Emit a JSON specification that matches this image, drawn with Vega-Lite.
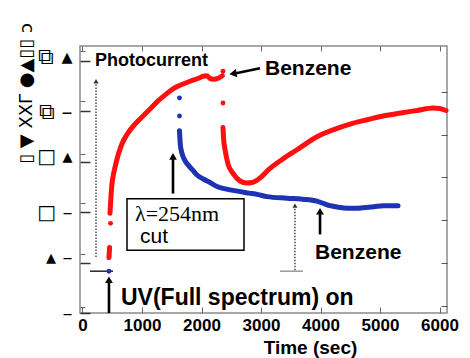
{
  "$schema": "https://vega.github.io/schema/vega-lite/v6.json",
  "width": 367,
  "height": 267,
  "autosize": "none",
  "padding": {"left": 80, "top": 46, "right": 23, "bottom": 45},
  "background": "white",
  "config": {"view": {"stroke": "#8a8a8a", "strokeWidth": 1.5}},
  "datasets": {
    "curves": [
      {"s": "red", "seg": "r0", "t": 445, "v": 1.10},
      {"s": "red", "seg": "r0", "t": 455, "v": 1.30},
      {"s": "red", "seg": "r1", "t": 462, "v": 1.98},
      {"s": "red", "seg": "r1", "t": 478, "v": 2.30},
      {"s": "red", "seg": "r1", "t": 496, "v": 2.57},
      {"s": "red", "seg": "r1", "t": 520, "v": 2.75},
      {"s": "red", "seg": "r1", "t": 546, "v": 2.89},
      {"s": "red", "seg": "r1", "t": 600, "v": 3.14},
      {"s": "red", "seg": "r1", "t": 664, "v": 3.36},
      {"s": "red", "seg": "r1", "t": 740, "v": 3.53},
      {"s": "red", "seg": "r1", "t": 832, "v": 3.68},
      {"s": "red", "seg": "r1", "t": 940, "v": 3.82},
      {"s": "red", "seg": "r1", "t": 1050, "v": 3.95},
      {"s": "red", "seg": "r1", "t": 1160, "v": 4.08},
      {"s": "red", "seg": "r1", "t": 1269, "v": 4.21},
      {"s": "red", "seg": "r1", "t": 1400, "v": 4.34},
      {"s": "red", "seg": "r1", "t": 1521, "v": 4.45},
      {"s": "red", "seg": "r1", "t": 1660, "v": 4.53},
      {"s": "red", "seg": "r1", "t": 1807, "v": 4.60},
      {"s": "red", "seg": "r1", "t": 1950, "v": 4.66},
      {"s": "red", "seg": "r1", "t": 2030, "v": 4.70},
      {"s": "red", "seg": "r1", "t": 2090, "v": 4.71},
      {"s": "red", "seg": "r1", "t": 2140, "v": 4.66},
      {"s": "red", "seg": "r1", "t": 2200, "v": 4.64},
      {"s": "red", "seg": "r1", "t": 2280, "v": 4.66},
      {"s": "red", "seg": "r1", "t": 2350, "v": 4.71},
      {"s": "red", "seg": "r2", "t": 2361, "v": 3.68},
      {"s": "red", "seg": "r2", "t": 2372, "v": 3.45},
      {"s": "red", "seg": "r2", "t": 2395, "v": 3.25},
      {"s": "red", "seg": "r2", "t": 2445, "v": 2.96},
      {"s": "red", "seg": "r2", "t": 2530, "v": 2.77},
      {"s": "red", "seg": "r2", "t": 2647, "v": 2.62},
      {"s": "red", "seg": "r2", "t": 2760, "v": 2.58},
      {"s": "red", "seg": "r2", "t": 2850, "v": 2.59},
      {"s": "red", "seg": "r2", "t": 2950, "v": 2.65},
      {"s": "red", "seg": "r2", "t": 3151, "v": 2.87},
      {"s": "red", "seg": "r2", "t": 3370, "v": 3.06},
      {"s": "red", "seg": "r2", "t": 3605, "v": 3.24},
      {"s": "red", "seg": "r2", "t": 3941, "v": 3.50},
      {"s": "red", "seg": "r2", "t": 4200, "v": 3.63},
      {"s": "red", "seg": "r2", "t": 4496, "v": 3.75},
      {"s": "red", "seg": "r2", "t": 4800, "v": 3.84},
      {"s": "red", "seg": "r2", "t": 5051, "v": 3.91},
      {"s": "red", "seg": "r2", "t": 5350, "v": 3.97},
      {"s": "red", "seg": "r2", "t": 5622, "v": 4.02},
      {"s": "red", "seg": "r2", "t": 5891, "v": 4.07},
      {"s": "red", "seg": "r2", "t": 6000, "v": 4.06},
      {"s": "red", "seg": "r2", "t": 6110, "v": 4.02},
      {"s": "blue", "seg": "b1", "t": 1630, "v": 3.62},
      {"s": "blue", "seg": "b1", "t": 1645, "v": 3.33},
      {"s": "blue", "seg": "b1", "t": 1672, "v": 3.17},
      {"s": "blue", "seg": "b1", "t": 1720, "v": 3.03},
      {"s": "blue", "seg": "b1", "t": 1780, "v": 2.93},
      {"s": "blue", "seg": "b1", "t": 1857, "v": 2.83},
      {"s": "blue", "seg": "b1", "t": 1925, "v": 2.74},
      {"s": "blue", "seg": "b1", "t": 2030, "v": 2.66},
      {"s": "blue", "seg": "b1", "t": 2143, "v": 2.59},
      {"s": "blue", "seg": "b1", "t": 2261, "v": 2.51},
      {"s": "blue", "seg": "b1", "t": 2420, "v": 2.46},
      {"s": "blue", "seg": "b1", "t": 2600, "v": 2.42},
      {"s": "blue", "seg": "b1", "t": 2800, "v": 2.38},
      {"s": "blue", "seg": "b1", "t": 2950, "v": 2.35},
      {"s": "blue", "seg": "b1", "t": 3100, "v": 2.31},
      {"s": "blue", "seg": "b1", "t": 3437, "v": 2.28},
      {"s": "blue", "seg": "b1", "t": 3700, "v": 2.26},
      {"s": "blue", "seg": "b1", "t": 3941, "v": 2.22},
      {"s": "blue", "seg": "b1", "t": 4060, "v": 2.17},
      {"s": "blue", "seg": "b1", "t": 4160, "v": 2.13},
      {"s": "blue", "seg": "b1", "t": 4300, "v": 2.10},
      {"s": "blue", "seg": "b1", "t": 4446, "v": 2.08},
      {"s": "blue", "seg": "b1", "t": 4600, "v": 2.08},
      {"s": "blue", "seg": "b1", "t": 4714, "v": 2.09},
      {"s": "blue", "seg": "b1", "t": 4900, "v": 2.11},
      {"s": "blue", "seg": "b1", "t": 5051, "v": 2.13},
      {"s": "blue", "seg": "b1", "t": 5303, "v": 2.13}
    ],
    "dots": [
      {"s": "red", "t": 472, "v": 1.78},
      {"s": "red", "t": 2361, "v": 4.80},
      {"s": "red", "t": 2361, "v": 4.17},
      {"s": "blue", "t": 445, "v": 0.83},
      {"s": "blue", "t": 1630, "v": 4.27},
      {"s": "blue", "t": 1630, "v": 3.91}
    ],
    "arrows": [
      {"kind": "solid", "t": 445, "v": 0, "t2": 445, "v2": 0.62},
      {"kind": "solid", "t": 1521, "v": 2.37, "t2": 1521, "v2": 3.06},
      {"kind": "solid", "t": 3992, "v": 1.56, "t2": 3992, "v2": 1.98},
      {"kind": "solid", "t": 2983, "v": 4.86, "t2": 2580, "v2": 4.76},
      {"kind": "dotted", "t": 227, "v": 1.11, "t2": 227, "v2": 4.56},
      {"kind": "dotted", "t": 3571, "v": 0.85, "t2": 3571, "v2": 2.10},
      {"kind": "black", "t": 126, "v": 0.83, "t2": 513, "v2": 0.83},
      {"kind": "gray", "t": 3319, "v": 0.83, "t2": 3706, "v2": 0.83}
    ],
    "heads": [
      {"kind": "solid", "dir": "up", "t": 445, "v": 0.66},
      {"kind": "solid", "dir": "up", "t": 1521, "v": 3.11},
      {"kind": "solid", "dir": "up", "t": 3992, "v": 2.02},
      {"kind": "solid", "dir": "left", "t": 2529, "v": 4.75},
      {"kind": "dotted", "dir": "up", "t": 227, "v": 4.60},
      {"kind": "dotted", "dir": "up", "t": 3571, "v": 2.13}
    ],
    "box": [{"t": 748, "t2": 2714, "v": 1.245, "v2": 2.27}],
    "labels": [
      {"id": "photo", "text": "Photocurrent", "t": 210, "v": 5.0},
      {"id": "benz1", "text": "Benzene", "t": 3067, "v": 4.85},
      {"id": "benz2", "text": "Benzene", "t": 3908, "v": 1.19},
      {"id": "uv", "text": "UV(Full spectrum) on", "t": 647, "v": 0.30},
      {"id": "lambda", "text": "λ=254nm", "t": 882, "v": 1.97},
      {"id": "cut", "text": "cut", "t": 966, "v": 1.50}
    ]
  },
  "layer": [
    {
      "encoding": {
        "x": {
          "field": "t", "type": "quantitative",
          "scale": {"domain": [-42, 6126], "nice": false, "zero": false},
          "axis": {
            "orient": "bottom", "values": [0, 1000, 2000, 3000, 4000, 5000, 6000], "format": "d",
            "domain": false, "grid": false, "tickSize": -6, "tickColor": "#666", "tickWidth": 1,
            "labelFont": "Liberation Sans", "labelFontSize": 17, "labelFontWeight": "bold", "labelColor": "black",
            "labelPadding": 10, "labelFlush": false, "labelOverlap": false,
            "title": "Time (sec)", "titleFont": "Liberation Sans", "titleFontSize": 19, "titleFontWeight": "bold",
            "titleColor": "black", "titleX": 230, "titleY": 34, "titleBaseline": "middle", "titleAlign": "center"
          }
        },
        "y": {
          "field": "v", "type": "quantitative",
          "scale": {"domain": [0, 5.3], "nice": false, "zero": false},
          "axis": {
            "orient": "left", "values": [0, 1, 2, 3, 4, 5],
            "labelExpr": "datum.value==5?'⧉ ▴':datum.value==4?'⧉ –':datum.value==3?'□ ▴':datum.value==2?'□ –':datum.value==1?'▴ –':'–'",
            "domain": false, "grid": false, "tickSize": -10, "tickColor": "#333", "tickWidth": 1.5,
            "labelFont": "DejaVu Sans", "labelColor": "black", "labelPadding": 18,
            "labelFontSize": {"condition": {"test": "datum.value >= 4", "value": 22}, "value": 20},
            "labelOffset": {"condition": {"test": "datum.value % 2 == 1", "value": -5}, "value": 0},
            "title": "▯ ▼ XXΓ ●▲▯▯ ɔ", "titleFont": "DejaVu Sans", "titleFontSize": 18, "titleFontWeight": "normal",
            "titleColor": "black", "titleX": -54, "titleY": 47, "titleBaseline": "middle", "titleAlign": "center", "titleAngle": -90
          }
        }
      },
      "layer": [
        {
          "data": {"name": "curves"},
          "mark": {"type": "line", "strokeWidth": 5, "strokeCap": "round", "strokeJoin": "round", "interpolate": "monotone"},
          "encoding": {
            "color": {"field": "s", "type": "nominal", "scale": {"domain": ["red", "blue"], "range": ["#ff1010", "#1e32b4"]}, "legend": null},
            "detail": {"field": "seg"}
          }
        },
        {
          "data": {"name": "arrows"},
          "transform": [{"filter": "datum.kind == 'solid'"}],
          "mark": {"type": "rule", "color": "black", "strokeWidth": 2.6},
          "encoding": {"x2": {"field": "t2"}, "y2": {"field": "v2"}}
        },
        {
          "data": {"name": "arrows"},
          "transform": [{"filter": "datum.kind == 'dotted'"}],
          "mark": {"type": "rule", "color": "#333", "strokeWidth": 1.3, "strokeDash": [1.5, 1.5]},
          "encoding": {"x2": {"field": "t2"}, "y2": {"field": "v2"}}
        },
        {
          "data": {"name": "arrows"},
          "transform": [{"filter": "datum.kind == 'black'"}],
          "mark": {"type": "rule", "color": "#222", "strokeWidth": 1.5},
          "encoding": {"x2": {"field": "t2"}, "y2": {"field": "v2"}}
        },
        {
          "data": {"name": "arrows"},
          "transform": [{"filter": "datum.kind == 'gray'"}],
          "mark": {"type": "rule", "color": "#999", "strokeWidth": 1.5},
          "encoding": {"x2": {"field": "t2"}, "y2": {"field": "v2"}}
        },
        {
          "data": {"name": "heads"},
          "transform": [{"filter": "datum.kind == 'solid' && datum.dir == 'up'"}],
          "mark": {"type": "point", "shape": "triangle-up", "filled": true, "color": "black", "size": 60, "opacity": 1}
        },
        {
          "data": {"name": "heads"},
          "transform": [{"filter": "datum.dir == 'left'"}],
          "mark": {"type": "point", "shape": "triangle-left", "filled": true, "color": "black", "size": 70, "angle": -10, "opacity": 1}
        },
        {
          "data": {"name": "heads"},
          "transform": [{"filter": "datum.kind == 'dotted'"}],
          "mark": {"type": "point", "shape": "triangle-up", "filled": true, "color": "#333", "size": 25, "opacity": 1}
        },
        {
          "data": {"name": "dots"},
          "mark": {"type": "circle", "size": 24, "opacity": 1},
          "encoding": {
            "color": {"field": "s", "type": "nominal", "scale": {"domain": ["red", "blue"], "range": ["#ff1010", "#1e32b4"]}, "legend": null}
          }
        },
        {
          "data": {"name": "box"},
          "mark": {"type": "rect", "fill": "white", "stroke": "black", "strokeWidth": 1.5},
          "encoding": {"x2": {"field": "t2"}, "y2": {"field": "v2"}}
        },
        {
          "data": {"name": "labels"},
          "transform": [{"filter": "datum.id == 'photo'"}],
          "mark": {"type": "text", "align": "left", "baseline": "middle", "font": "Liberation Sans", "fontSize": 18, "fontWeight": "bold", "color": "black"},
          "encoding": {"text": {"field": "text"}}
        },
        {
          "data": {"name": "labels"},
          "transform": [{"filter": "datum.id == 'benz1' || datum.id == 'benz2'"}],
          "mark": {"type": "text", "align": "left", "baseline": "middle", "font": "Liberation Sans", "fontSize": 21, "fontWeight": "bold", "color": "black"},
          "encoding": {"text": {"field": "text"}}
        },
        {
          "data": {"name": "labels"},
          "transform": [{"filter": "datum.id == 'uv'"}],
          "mark": {"type": "text", "align": "left", "baseline": "middle", "font": "Liberation Sans", "fontSize": 23, "fontWeight": "bold", "color": "black"},
          "encoding": {"text": {"field": "text"}}
        },
        {
          "data": {"name": "labels"},
          "transform": [{"filter": "datum.id == 'lambda'"}],
          "mark": {"type": "text", "align": "left", "baseline": "middle", "font": "Liberation Serif", "fontSize": 22, "color": "black"},
          "encoding": {"text": {"field": "text"}}
        },
        {
          "data": {"name": "labels"},
          "transform": [{"filter": "datum.id == 'cut'"}],
          "mark": {"type": "text", "align": "left", "baseline": "middle", "font": "Liberation Sans", "fontSize": 21, "color": "black"},
          "encoding": {"text": {"field": "text"}}
        }
      ]
    },
    {
      "data": {"name": "dots"},
      "mark": {"type": "point", "opacity": 0},
      "encoding": {
        "x": {
          "field": "t", "type": "quantitative",
          "scale": {"domain": [-42, 6126], "nice": false, "zero": false},
          "axis": {"orient": "top", "values": [0, 1000, 2000, 3000, 4000, 5000, 6000], "labels": false, "domain": false, "grid": false, "tickSize": -5, "tickColor": "#666", "title": null}
        },
        "y": {
          "field": "v", "type": "quantitative",
          "scale": {"domain": [0, 5.3], "nice": false, "zero": false},
          "axis": {"orient": "right", "values": [0.14, 0.99, 1.84, 2.69, 3.54, 4.39], "labels": false, "domain": false, "grid": false, "tickSize": -6, "tickColor": "#555", "title": null}
        }
      }
    },
    {
      "data": {"name": "dots"},
      "mark": {"type": "point", "opacity": 0},
      "encoding": {
        "x": {
          "field": "t", "type": "quantitative",
          "scale": {"domain": [-42, 6126], "nice": false, "zero": false},
          "axis": null
        },
        "y": {
          "field": "v", "type": "quantitative",
          "scale": {"domain": [0, 5.3], "nice": false, "zero": false},
          "axis": {"orient": "left", "values": [0.12, 1.17, 2.19, 3.16, 4.21, 5.2], "labels": false, "domain": false, "grid": false, "tickSize": -5, "tickColor": "#666", "title": null}
        }
      }
    }
  ],
  "resolve": {"scale": {"x": "independent", "y": "independent"}, "axis": {"x": "independent", "y": "independent"}}
}
